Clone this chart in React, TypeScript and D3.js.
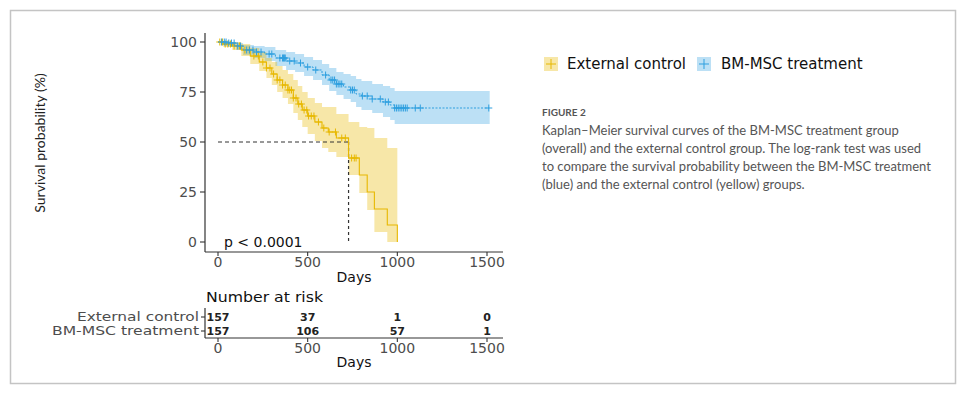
import React from "react";
import * as d3 from "d3";

// ---- Data ----
const ecTime = [0, 30, 80, 130, 180, 230, 270, 300, 330, 360, 390, 420, 445, 470, 500, 540, 580, 615, 660, 728, 788, 832, 872, 944, 1000];
const ecSurv = [100, 99, 98, 96, 93, 90, 87, 84, 81, 78.5, 76, 72, 69, 66, 63, 60, 57, 55, 52, 42, 33.5, 25, 16.5, 8.5, 0];
const ecLower = [100, 97.5, 96, 93, 89, 85.5, 82, 78.5, 75, 72, 69, 64.5, 61, 57.5, 54, 50.5, 47, 45, 42.5, 33.5, 24.5, 16, 5, 0, 0];
const ecUpper = [100, 100, 100, 99, 97, 95, 92, 90, 88, 86, 84, 81, 78, 75, 72, 69.5, 67.5, 67.5, 64, 60, 57.5, 57, 52, 47, 47];
const ecCensor = [10, 25, 40, 55, 70, 90, 120, 150, 175, 200, 225, 250, 270, 290, 310, 330, 345, 360, 375, 390, 400, 410, 420, 435, 450, 465, 480, 495, 505, 520, 535, 560, 590, 620, 655, 690, 710, 745, 760, 770];

const btTime = [0, 50, 100, 140, 200, 260, 320, 380, 430, 480, 530, 580, 620, 660, 700, 740, 770, 800, 860, 920, 960, 985, 1515];
const btSurv = [100, 99.5, 98, 96, 95, 94, 92, 90.5, 89.5, 87.5, 86, 83.5, 81, 79, 77.5, 76, 74, 73, 71.5, 70, 68.5, 67, 67];
const btLower = [100, 98.5, 96, 93.5, 92, 90.5, 88, 86, 85, 83, 81, 78.5, 75.5, 73.5, 71.5, 70, 67.5, 66, 64.5, 62.5, 61, 59, 59];
const btUpper = [100, 100, 99.5, 98.5, 98, 97.5, 96, 95, 94, 92.5, 91, 89, 87, 85, 84, 83, 81.5, 80.5, 79, 78, 77, 75.5, 75.5];
const btCensor = [20, 35, 45, 60, 75, 90, 110, 125, 160, 175, 195, 215, 240, 285, 300, 345, 360, 365, 370, 375, 400, 425, 460, 500, 545, 600, 630, 640, 650, 660, 670, 680, 690, 740, 750, 760, 805, 832, 860, 905, 933, 950, 985, 995, 1005, 1015, 1025, 1035, 1045, 1055, 1100, 1128, 1510];
const btLineEnd = 1510;

const medianTime = 728;
const xTicks = [0, 500, 1000, 1500];
const yTicks = [0, 25, 50, 75, 100];
const groups = ["External control", "BM-MSC treatment"];
const riskEC = [157, 37, 1, 0];
const riskBT = [157, 106, 57, 1];
const captionLines = [
  "Kaplan\u2013Meier survival curves of the BM-MSC treatment group",
  "(overall) and the external control group. The log-rank test was used",
  "to compare the survival probability between the BM-MSC treatment",
  "(blue) and the external control (yellow) groups.",
];

const YEL = "#E7B800";
const BLU = "#2E9FDF";
const FONT = "DejaVu Sans, sans-serif";

type Pt = { t: number; s: number; lo: number; hi: number };
const zip = (t: number[], s: number[], lo: number[], hi: number[]): Pt[] =>
  t.map((v, i) => ({ t: v, s: s[i], lo: lo[i], hi: hi[i] }));

export default function App() {
  const x = d3.scaleLinear().domain([0, 1500]).range([218, 487]);
  const y = d3.scaleLinear().domain([0, 100]).range([242, 42]);

  const ec = zip(ecTime, ecSurv, ecLower, ecUpper);
  const bt = zip(btTime, btSurv, btLower, btUpper);

  const area = d3
    .area<Pt>()
    .x((d) => x(d.t))
    .y0((d) => y(d.lo))
    .y1((d) => y(d.hi))
    .curve(d3.curveStepAfter);
  const line = d3
    .line<Pt>()
    .x((d) => x(d.t))
    .y((d) => y(d.s))
    .curve(d3.curveStepAfter);

  const survAt = (pts: Pt[], t: number) => {
    let v = pts[0].s;
    for (const p of pts) if (p.t <= t) v = p.s;
    return v;
  };

  const btLinePts = bt.slice(0, -1).concat([{ ...bt[bt.length - 1], t: btLineEnd }]);

  const plus = (cx: number, cy: number, color: string, key: string, r = 3.5) => (
    <g key={key} stroke={color} strokeWidth={1}>
      <line x1={cx - r} x2={cx + r} y1={cy} y2={cy} />
      <line x1={cx} x2={cx} y1={cy - r} y2={cy + r} />
    </g>
  );

  const axisColor = "#333";
  const tickColor = "#4d4d4d";
  const riskY = [317, 331];
  const riskLabelLen = [122, 147];

  return (
    <svg
      width={966}
      height={396}
      style={{ position: "absolute", left: 0, top: 0, background: "#fff" }}
      fontFamily={FONT}
    >
      <rect x={10.5} y={10.5} width={945} height={373} fill="#fff" stroke="#c4c4c4" strokeWidth={1.5} />

      {/* bands */}
      <path d={area(bt) || ""} fill={BLU} fillOpacity={0.32} />
      <path d={area(ec) || ""} fill={YEL} fillOpacity={0.34} />

      {/* median lines */}
      <line x1={x(0)} x2={x(medianTime)} y1={y(50)} y2={y(50)} stroke="#333" strokeWidth={1} strokeDasharray="4,3" />
      <line x1={x(medianTime)} x2={x(medianTime)} y1={y(50)} y2={y(0)} stroke="#333" strokeWidth={1.2} strokeDasharray="3,3" />

      {/* curves */}
      <path d={line(ec) || ""} fill="none" stroke={YEL} strokeWidth={1.1} />
      <path d={line(btLinePts) || ""} fill="none" stroke={BLU} strokeWidth={1} strokeDasharray="2,1.5" />
      {ecCensor.map((t, i) => plus(x(t), y(survAt(ec, t)), YEL, "ec" + i))}
      {btCensor.map((t, i) => plus(x(t), y(survAt(bt, t)), BLU, "bt" + i))}

      {/* main axes */}
      <line x1={205} x2={205} y1={33} y2={252} stroke={axisColor} strokeWidth={1.2} />
      <line x1={205} x2={503} y1={252} y2={252} stroke={axisColor} strokeWidth={1.2} />
      {yTicks.map((v) => (
        <g key={"yt" + v}>
          <line x1={200} x2={205} y1={y(v)} y2={y(v)} stroke={axisColor} strokeWidth={1.1} />
          <text x={197} y={y(v)} dy="0.35em" textAnchor="end" fontSize={14} fill={tickColor}>
            {v}
          </text>
        </g>
      ))}
      {xTicks.map((v) => (
        <g key={"xt" + v}>
          <line x1={x(v)} x2={x(v)} y1={252} y2={256} stroke={axisColor} strokeWidth={1.1} />
          <text x={x(v)} y={267} textAnchor="middle" fontSize={14} fill={tickColor}>
            {v}
          </text>
        </g>
      ))}
      <text x={354} y={282} textAnchor="middle" fontSize={14} fill="#111">
        Days
      </text>
      <text
        transform="translate(45,143) rotate(-90)"
        textAnchor="middle"
        fontSize={14}
        fontFamily="Lato, sans-serif"
        fill="#222"
      >
        Survival probability (%)
      </text>
      <text x={224} y={247} fontSize={14} fill="#111">
        p &lt; 0.0001
      </text>

      {/* legend */}
      <rect x={544} y={57} width={14} height={14} fill={YEL} fillOpacity={0.34} />
      {plus(551, 64, YEL, "lg1", 5)}
      <text x={567} y={69} fontSize={15} fill="#111">
        {groups[0]}
      </text>
      <rect x={697} y={57} width={14} height={14} fill={BLU} fillOpacity={0.32} />
      {plus(704, 64, BLU, "lg2", 5)}
      <text x={721} y={69} fontSize={15} fill="#111">
        {groups[1]}
      </text>

      {/* caption */}
      <text x={542} y={116} fontSize={10} fontWeight="bold" fontFamily="Lato, sans-serif" fill="#555">
        FIGURE 2
      </text>
      {captionLines.map((l, i) => (
        <text key={"cap" + i} x={542} y={134.5 + i * 18} fontSize={13} fontFamily="Lato, sans-serif" fill="#555">
          {l}
        </text>
      ))}

      {/* risk table */}
      <text x={206} y={302} fontSize={13.5} fill="#111" textLength={117} lengthAdjust="spacingAndGlyphs">
        Number at risk
      </text>
      <line x1={205} x2={205} y1={308} y2={338} stroke={axisColor} strokeWidth={1.2} />
      <line x1={205} x2={503} y1={338} y2={338} stroke={axisColor} strokeWidth={1.2} />
      {groups.map((g, i) => (
        <g key={"rg" + i}>
          <line x1={201} x2={205} y1={riskY[i]} y2={riskY[i]} stroke={axisColor} strokeWidth={1.1} />
          <text
            x={199 - riskLabelLen[i]}
            y={riskY[i]}
            dy="0.35em"
            fontSize={12.5}
            fill={tickColor}
            textLength={riskLabelLen[i]}
            lengthAdjust="spacingAndGlyphs"
          >
            {g}
          </text>
        </g>
      ))}
      {xTicks.map((v, j) => (
        <g key={"rk" + v}>
          <text x={x(v)} y={riskY[0]} dy="0.35em" textAnchor="middle" fontSize={11} fontWeight="bold" fill="#222">
            {riskEC[j]}
          </text>
          <text x={x(v)} y={riskY[1]} dy="0.35em" textAnchor="middle" fontSize={11} fontWeight="bold" fill="#222">
            {riskBT[j]}
          </text>
          <line x1={x(v)} x2={x(v)} y1={338} y2={342} stroke={axisColor} strokeWidth={1.1} />
          <text x={x(v)} y={353} textAnchor="middle" fontSize={14} fill={tickColor}>
            {v}
          </text>
        </g>
      ))}
      <text x={354} y={367} textAnchor="middle" fontSize={14} fill="#111">
        Days
      </text>
    </svg>
  );
}
